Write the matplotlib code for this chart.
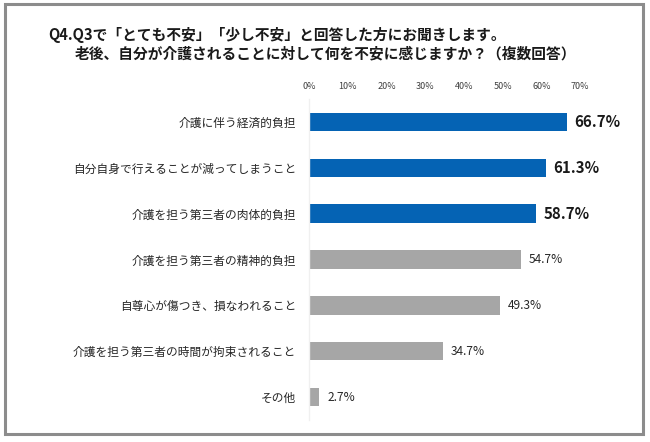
import matplotlib
matplotlib.use("Agg")
import matplotlib.pyplot as plt
from matplotlib.patches import Rectangle

plt.rcParams['font.family'] = ['Noto Sans CJK JP', 'DejaVu Sans']

title_lines = ["Q4.Q3で「とても不安」「少し不安」と回答した方にお聞きします。",
               "老後、自分が介護されることに対して何を不安に感じますか？（複数回答）"]
categories = ["介護に伴う経済的負担",
              "自分自身で行えることが減ってしまうこと",
              "介護を担う第三者の肉体的負担",
              "介護を担う第三者の精神的負担",
              "自尊心が傷つき、損なわれること",
              "介護を担う第三者の時間が拘束されること",
              "その他"]
values = [66.7, 61.3, 58.7, 54.7, 49.3, 34.7, 2.7]
highlight = [True, True, True, False, False, False, False]
ticks = [0, 10, 20, 30, 40, 50, 60, 70]
tick_labels = ["0%", "10%", "20%", "30%", "40%", "50%", "60%", "70%"]

W, H = 650, 442
fig = plt.figure(figsize=(W/100, H/100), dpi=100)

# frame
fig.patches.append(Rectangle((5/W, 8/H), 638/W, 430/H, transform=fig.transFigure,
                             fill=False, edgecolor="#8c8c8c", linewidth=2.2))

ax = fig.add_axes([309/W, 1-420/H, (580-309)/W, (420-99)/H])
blue = "#0563B4"
gray = "#A6A6A6"
ys = list(range(len(categories)))
colors = [blue if h else gray for h in highlight]
ax.barh(ys, values, height=0.4, color=colors, zorder=2)
ax.set_ylim(len(categories)-0.5, -0.5)
ax.set_xlim(0, 70)
ax.xaxis.tick_top()
ax.set_xticks(ticks)
ax.set_xticklabels(tick_labels, fontsize=6.5, color="#404040")
ax.tick_params(axis='x', length=0, pad=5.5)
ax.set_yticks(ys)
ax.set_yticklabels(categories, fontsize=8.45, color="#262626")
ax.tick_params(axis='y', length=0, pad=9.4)
for s in ["top", "right", "bottom"]:
    ax.spines[s].set_visible(False)
ax.spines["left"].set_color("#f0f0f0")
ax.spines["left"].set_linewidth(1.0)

for y, v, h in zip(ys, values, highlight):
    if h:
        ax.text(v + 1.8, y, f"{v:.1f}%", va="center", ha="left",
                fontsize=10.8, fontweight="bold", color="#1a1a1a")
    else:
        ax.text(v + 2.0, y, f"{v:.1f}%", va="center", ha="left",
                fontsize=8.6, color="#262626")

fig.text(48/W, 1-35/H, title_lines[0], fontsize=10.6, fontweight="bold",
         va="center", ha="left", color="#1a1a1a")
fig.text(75/W, 1-53/H, title_lines[1], fontsize=10.6, fontweight="bold",
         va="center", ha="left", color="#1a1a1a")

fig.savefig("out.png", dpi=100)
